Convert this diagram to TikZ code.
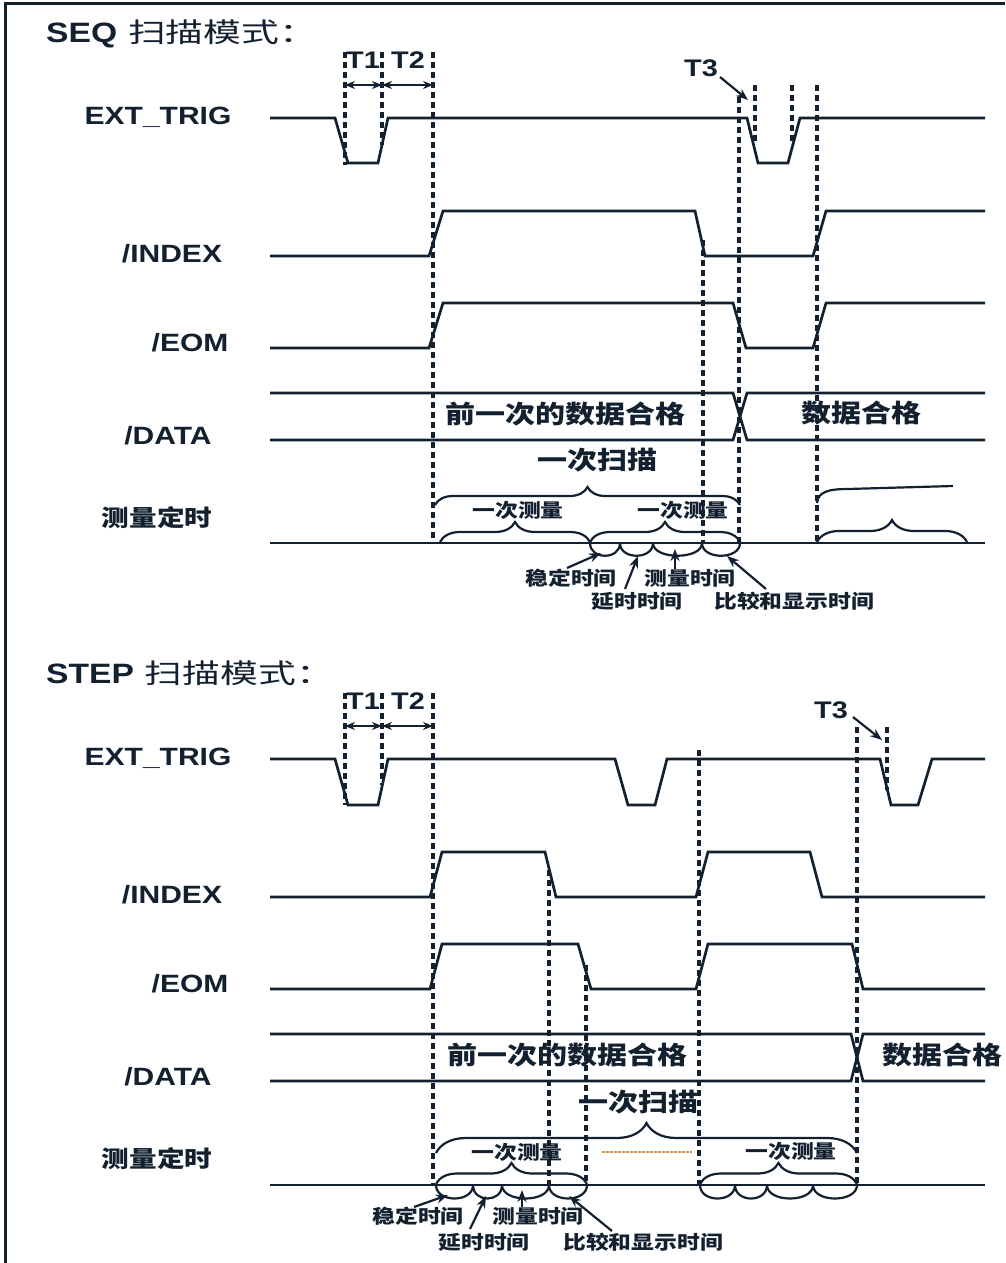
\documentclass[tikz,border=0pt]{standalone}
\usepackage{fontspec}
\usetikzlibrary{arrows.meta,decorations.pathreplacing}
\newfontfamily\lab[FakeStretch=1.2]{Liberation Sans Bold}
\newfontfamily\cjk[FakeStretch=1.2]{Noto Sans CJK SC}
\newfontfamily\cjkt[FakeStretch=1.4]{Noto Sans CJK SC}
\definecolor{ink}{RGB}{18,32,48}
\definecolor{dotc}{RGB}{205,150,80}
\tikzset{
  sig/.style={ink, line width=2.7pt, line join=miter},
  dsh/.style={ink, line width=3.2pt, dash pattern=on 6pt off 4pt},
  brc/.style={ink, line width=2.2pt, decorate, decoration={brace, amplitude=#1}},
  bmp/.style={ink, line width=2.2pt},
  arr/.style={ink, line width=2.2pt, -{Stealth[length=12pt,width=9pt]}},
  dbl/.style={ink, line width=2.2pt, {Stealth[length=10pt,width=8pt]}-{Stealth[length=10pt,width=8pt]}},
  siglab/.style={ink, inner sep=0pt, font=\lab\fontsize{25}{28}\selectfont},
  tlab/.style={ink, inner sep=0pt, font=\lab\fontsize{24}{26}\selectfont},
  ttl/.style={ink, inner sep=0pt, anchor=west},
  bigcn/.style={ink, inner sep=0pt, font=\cjk\bfseries\fontsize{25}{28}\selectfont},
  smcn/.style={ink, inner sep=0pt, font=\cjk\bfseries\fontsize{19}{22}\selectfont},
  rowcn/.style={ink, inner sep=0pt, font=\cjk\bfseries\fontsize{23}{26}\selectfont}
}
\newcommand{\ttltext}[1]{{\lab\fontsize{28}{32}\selectfont #1}\hspace{11pt}{\cjkt\fontsize{27}{32}\selectfont 扫描模式：}}
\begin{document}
\begin{tikzpicture}[x=1pt,y=1pt]
\useasboundingbox (0,0) rectangle (1005,-1263);
\fill[white] (0,0) rectangle (1005,-1263);
% frame (top and left)
\draw[ink, line width=3pt] (5,-1263) -- (5,-4) -- (1005,-4);

% ================= SEQ =================
\node[ttl] (seqtitle) at (46,-34) {\ttltext{SEQ}};
\node[siglab] (s-ext) at (158,-117) {EXT\_TRIG};
\node[siglab] (s-idx) at (172,-254) {/INDEX};
\node[siglab] (s-eom) at (190,-343) {/EOM};
\node[siglab] (s-dat) at (168,-436) {/DATA};
\node[rowcn] (s-tim) at (157,-518) {测量定时};

% dashed guides
\draw[dsh] (345,-52) -- (345,-165);
\draw[dsh] (382,-52) -- (382,-145);
\draw[dsh] (433,-52) -- (433,-543);
\draw[dsh] (703,-240) -- (703,-543);
\draw[dsh] (739,-97) -- (739,-543);
\draw[dsh] (755,-85) -- (755,-143);
\draw[dsh] (792,-85) -- (792,-143);
\draw[dsh] (817,-85) -- (817,-543);

% signals
\draw[sig] (270,-118) -- (335,-118) -- (348,-163) -- (378,-163) -- (388,-118) -- (747,-118) -- (758,-163) -- (788,-163) -- (800,-118) -- (985,-118);
\draw[sig] (270,-256) -- (429,-256) -- (443,-211) -- (695,-211) -- (705,-256) -- (813,-256) -- (826,-211) -- (985,-211);
\draw[sig] (270,-348) -- (429,-348) -- (443,-303) -- (733,-303) -- (746,-348) -- (813,-348) -- (826,-303) -- (985,-303);
\draw[sig] (270,-393) -- (733,-393) -- (747,-440) -- (985,-440);
\draw[sig] (270,-440) -- (733,-440) -- (747,-393) -- (985,-393);
\draw[sig] (270,-543) -- (985,-543);

% T labels
\node[tlab] (s-t1) at (363,-60) {T1};
\node[tlab] (s-t2) at (408,-60) {T2};
\node[tlab] (s-t3) at (701,-68) {T3};
\coordinate (s-a) at (345,-85); \coordinate (s-b) at (382,-85); \coordinate (s-c) at (433,-85);
\draw[dbl] (s-a) -- (s-b);
\draw[dbl] (s-b) -- (s-c);
\coordinate (s-t3e) at (748,-100);
\draw[arr] (720,-77) -- (s-t3e);

% data texts
\node[bigcn] (s-prev) at (565,-414) {前一次的数据合格};
\node[bigcn] (s-ok) at (861,-413) {数据合格};
\node[bigcn] (s-scan) at (597,-460) {一次扫描};
\node[smcn] (s-m1) at (518,-510) {一次测量};
\node[smcn] (s-m2) at (683,-510) {一次测量};

% braces
\draw[brc=18pt] (435,-505) -- (740,-505);
\draw[brc=20pt] (440,-542) -- (590,-542);
\draw[brc=20pt] (590,-542) -- (740,-542);
\draw[ink, line width=2.2pt] (817,-503) .. controls (818,-492) and (828,-489) .. (848,-489) -- (953,-486);
\draw[brc=22pt] (817,-542) -- (967,-542);
\foreach \a/\b in {590/620,620/653,653/702,702/740}
  \draw[bmp] (\a,-543) .. controls (\a,-560) and (\b,-560) .. (\b,-543);

% bottom labels
\node[smcn] (s-w1) at (571,-578) {稳定时间};
\node[smcn] (s-w2) at (637,-601) {延时时间};
\node[smcn] (s-w3) at (690,-578) {测量时间};
\node[smcn] (s-w4) at (794,-601) {比较和显示时间};
\coordinate (s-p1) at (601,-553); \coordinate (s-p2) at (638,-556);
\coordinate (s-p3) at (675,-549); \coordinate (s-p4) at (727,-556);
\draw[arr] (567,-568) -- (s-p1);
\draw[arr] (625,-589) -- (s-p2);
\draw[arr] (675,-569) -- (s-p3);
\draw[arr] (766,-589) -- (s-p4);

% ================= STEP =================
\node[ttl] (steptitle) at (46,-673) {\ttltext{STEP}};
\node[siglab] (p-ext) at (158,-758) {EXT\_TRIG};
\node[siglab] (p-idx) at (172,-895) {/INDEX};
\node[siglab] (p-eom) at (190,-984) {/EOM};
\node[siglab] (p-dat) at (168,-1077) {/DATA};
\node[rowcn] (p-tim) at (157,-1159) {测量定时};

\draw[dsh] (345,-693) -- (345,-805);
\draw[dsh] (382,-693) -- (382,-785);
\draw[dsh] (433,-693) -- (433,-1185);
\draw[dsh] (549,-870) -- (549,-1185);
\draw[dsh] (586,-965) -- (586,-1185);
\draw[dsh] (699,-750) -- (699,-1185);
\draw[dsh] (857,-727) -- (857,-1185);
\draw[dsh] (887,-727) -- (887,-790);

\draw[sig] (270,-759) -- (335,-759) -- (348,-805) -- (378,-805) -- (388,-759) -- (615,-759) -- (628,-805) -- (655,-805) -- (667,-759) -- (880,-759) -- (891,-805) -- (918,-805) -- (932,-759) -- (985,-759);
\draw[sig] (270,-897) -- (430,-897) -- (442,-852) -- (545,-852) -- (556,-897) -- (696,-897) -- (708,-852) -- (810,-852) -- (822,-897) -- (985,-897);
\draw[sig] (270,-989) -- (430,-989) -- (442,-944) -- (578,-944) -- (591,-989) -- (696,-989) -- (708,-944) -- (852,-944) -- (863,-989) -- (985,-989);
\draw[sig] (270,-1034) -- (851,-1034) -- (863,-1081) -- (985,-1081);
\draw[sig] (270,-1081) -- (851,-1081) -- (863,-1034) -- (985,-1034);
\draw[sig] (270,-1185) -- (985,-1185);

\node[tlab] (p-t1) at (363,-701) {T1};
\node[tlab] (p-t2) at (408,-701) {T2};
\node[tlab] (p-t3) at (831,-710) {T3};
\coordinate (p-a) at (345,-726); \coordinate (p-b) at (382,-726); \coordinate (p-c) at (433,-726);
\draw[dbl] (p-a) -- (p-b);
\draw[dbl] (p-b) -- (p-c);
\coordinate (p-t3e) at (882,-740);
\draw[arr] (853,-717) -- (p-t3e);

\node[bigcn] (p-prev) at (567,-1055) {前一次的数据合格};
\node[bigcn] (p-ok) at (942,-1055) {数据合格};
\node[bigcn] (p-scan) at (638,-1102) {一次扫描};
\node[smcn] (p-m1) at (517,-1152) {一次测量};
\node[smcn] (p-m2) at (791,-1151) {一次测量};
\draw[dotc, line width=2.2pt, dash pattern=on 2.5pt off 1.5pt] (602,-1152) -- (692,-1152);

\draw[brc=30pt] (436,-1153) -- (857,-1153);
\draw[brc=21pt] (436,-1184) -- (587,-1184);
\draw[brc=21pt] (700,-1184) -- (857,-1184);
\foreach \a/\b in {436/473,473/502,502/549,549/587,700/735,735/767,767/813,813/857}
  \draw[bmp] (\a,-1185) .. controls (\a,-1203) and (\b,-1203) .. (\b,-1185);

\node[smcn] (p-w1) at (418,-1216) {稳定时间};
\node[smcn] (p-w2) at (484,-1242) {延时时间};
\node[smcn] (p-w3) at (538,-1216) {测量时间};
\node[smcn] (p-w4) at (643,-1242) {比较和显示时间};
\coordinate (p-p1) at (448,-1195); \coordinate (p-p2) at (486,-1196);
\coordinate (p-p3) at (522,-1190); \coordinate (p-p4) at (569,-1196);
\draw[arr] (414,-1207) -- (p-p1);
\draw[arr] (470,-1229) -- (p-p2);
\draw[arr] (522,-1207) -- (p-p3);
\draw[arr] (612,-1231) -- (p-p4);
\end{tikzpicture}
\end{document}
